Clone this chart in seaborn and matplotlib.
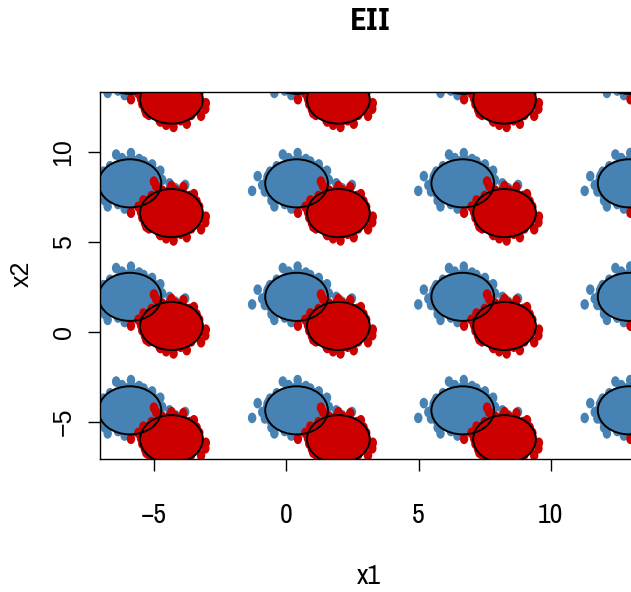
import numpy as np
import pandas as pd
import matplotlib
matplotlib.use("Agg")
import matplotlib.pyplot as plt
from matplotlib.patches import Ellipse
from matplotlib.path import Path
import seaborn as sns

# ---- data ----
title = "EII"
x_label = "x1"
y_label = "x2"
x_ticks = [-5, 0, 5, 10]
y_ticks = [-5, 0, 5, 10]

blue_cx = [-5.91, 0.39, 6.67, 12.96]
blue_cy = [14.55, 8.25, 1.95, -4.35]
red_cx = [-4.34, 1.97, 8.25, 14.54]
red_cy = [12.90, 6.60, 0.33, -5.95]

core_dx = [-0.35, -0.10, 0.15, 0.40,
           -0.75, -0.50, -0.30, -0.10, 0.10, 0.30, 0.50, 0.70,
           -1.00, -0.80, -0.60, -0.40, -0.20, 0.00, 0.20, 0.40, 0.60, 0.80, 0.95,
           -1.10, -0.90, -0.70, -0.50, -0.30, -0.10, 0.10, 0.30, 0.50, 0.70, 0.90, 1.05,
           -1.15, -0.95, -0.75, -0.55, -0.35, -0.15, 0.05, 0.25, 0.45, 0.65, 0.85, 1.05,
           -1.10, -0.90, -0.70, -0.50, -0.30, -0.10, 0.10, 0.30, 0.50, 0.70, 0.90, 1.05,
           -1.00, -0.80, -0.60, -0.40, -0.20, 0.00, 0.20, 0.40, 0.60, 0.80, 0.95,
           -0.85, -0.65, -0.45, -0.25, -0.05, 0.15, 0.35, 0.55, 0.75,
           -0.45, -0.25, -0.05, 0.15, 0.35]
core_dy = [1.25, 1.22, 1.26, 1.20,
           0.95, 0.97, 0.93, 0.96, 0.94, 0.97, 0.93, 0.95,
           0.65, 0.63, 0.67, 0.64, 0.66, 0.63, 0.66, 0.64, 0.67, 0.63, 0.65,
           0.35, 0.37, 0.33, 0.36, 0.34, 0.37, 0.33, 0.36, 0.34, 0.37, 0.33, 0.35,
           0.05, 0.03, 0.07, 0.04, 0.06, 0.03, 0.07, 0.04, 0.06, 0.03, 0.07, 0.05,
           -0.25, -0.23, -0.27, -0.24, -0.26, -0.23, -0.27, -0.24, -0.26, -0.23, -0.27, -0.25,
           -0.55, -0.53, -0.57, -0.54, -0.56, -0.53, -0.57, -0.54, -0.56, -0.53, -0.55,
           -0.85, -0.83, -0.87, -0.84, -0.86, -0.83, -0.87, -0.84, -0.85,
           -1.15, -1.13, -1.17, -1.14, -1.15]

blue_out_dx = [-0.52, 0.04, -1.47, -1.68, -1.20, -1.06, -0.84, -0.20, 0.52, 0.84,
               1.15, 1.22, 1.50, 2.09, 1.72, 0.27, -1.30, -0.95, -0.30, 0.35]
blue_out_dy = [1.60, 1.68, 0.40, -0.42, -0.45, 0.47, -1.28, -1.40, 1.21, 1.05,
               0.70, 0.19, 0.00, -0.09, -0.27, -1.00, -0.10, -0.95, 1.40, 1.35]

red_out_dx = [-0.66, -0.58, -1.53, -1.25, -1.06, -0.42, 0.08, 0.58, 1.28, 1.12,
              1.00, 0.45, 0.00, 1.30, -0.95, 0.85, -0.20]
red_out_dy = [1.75, 1.50, 0.02, 0.35, 0.70, -1.22, -1.52, -1.34, -0.51, -0.90,
              0.20, 1.44, 1.50, -0.20, -0.75, 1.05, -1.40]

ell_w = 2.37
ell_h = 2.67

blue_col = "#4682B4"
red_col = "#CD0000"

rows = []
for cx in blue_cx:
    for cy in blue_cy:
        for dx, dy in zip(core_dx + blue_out_dx, core_dy + blue_out_dy):
            rows.append(("1", cx + dx, cy + dy))
for cx in red_cx:
    for cy in red_cy:
        for dx, dy in zip(core_dx + red_out_dx, core_dy + red_out_dy):
            rows.append(("2", cx + dx, cy + dy))
df = pd.DataFrame(rows, columns=["cls", "x1", "x2"])

sns.set_style("ticks")
plt.rcParams["font.family"] = ["Liberation Sans", "DejaVu Sans"]
plt.rcParams["text.color"] = "black"
plt.rcParams["xtick.color"] = "black"
plt.rcParams["ytick.color"] = "black"
NARROW = ["Archivo Narrow", "Liberation Sans", "DejaVu Sans"]
NARROW_BOLD = ["IBM Plex Sans Condensed", "Archivo Narrow", "Liberation Sans", "DejaVu Sans"]

# slightly tall dot, as in the (horizontally squeezed) reference
circ = Path.unit_circle()
dot = Path(circ.vertices * np.array([0.8, 1.0]), circ.codes)

W, H = 631, 592
fig = plt.figure(figsize=(W / 100, H / 100), dpi=100)
ax = fig.add_axes([100 / W, (H - 459) / H, 540 / W, 367 / H])

sns.scatterplot(data=df, x="x1", y="x2", hue="cls",
                palette={"1": blue_col, "2": red_col},
                s=58, marker=dot, linewidth=0, legend=False, ax=ax, zorder=2)

for cx in blue_cx:
    for cy in blue_cy:
        ax.add_patch(Ellipse((cx, cy), ell_w, ell_h, fill=False,
                             ec="black", lw=1.4, zorder=3))
for cx in red_cx:
    for cy in red_cy:
        ax.add_patch(Ellipse((cx, cy), ell_w, ell_h, fill=False,
                             ec="black", lw=1.4, zorder=3))

ax.set_xlim(-7.04, 13.37)
ax.set_ylim(-7.05, 13.32)
ax.set_xticks(x_ticks)
ax.set_yticks(y_ticks)
ax.set_xlabel("")
ax.set_ylabel("")
ax.set_xticklabels([f"{v}".replace("-", "\u2212") for v in x_ticks],
                   family=NARROW, fontsize=20)
ax.set_yticklabels([f"{v}".replace("-", "\u2212") for v in y_ticks],
                   fontsize=18, rotation=90, va="center")
ax.tick_params(axis="both", direction="out", length=8.6, width=1.0, color="black")
ax.tick_params(axis="x", pad=23)
ax.tick_params(axis="y", pad=9)
for sp in ax.spines.values():
    sp.set_linewidth(1.0)
    sp.set_color("black")

fig.text(370 / W, 1 - 22 / H, title, ha="center", va="center",
         family=NARROW_BOLD, fontweight="bold", fontsize=22)
fig.text(369 / W, 1 - 577 / H, x_label, ha="center", va="center",
         family=NARROW, fontsize=20)
fig.text(22 / W, 1 - 274 / H, y_label, ha="center", va="center",
         rotation=90, fontsize=18)

fig.savefig("out.png", dpi=100)
